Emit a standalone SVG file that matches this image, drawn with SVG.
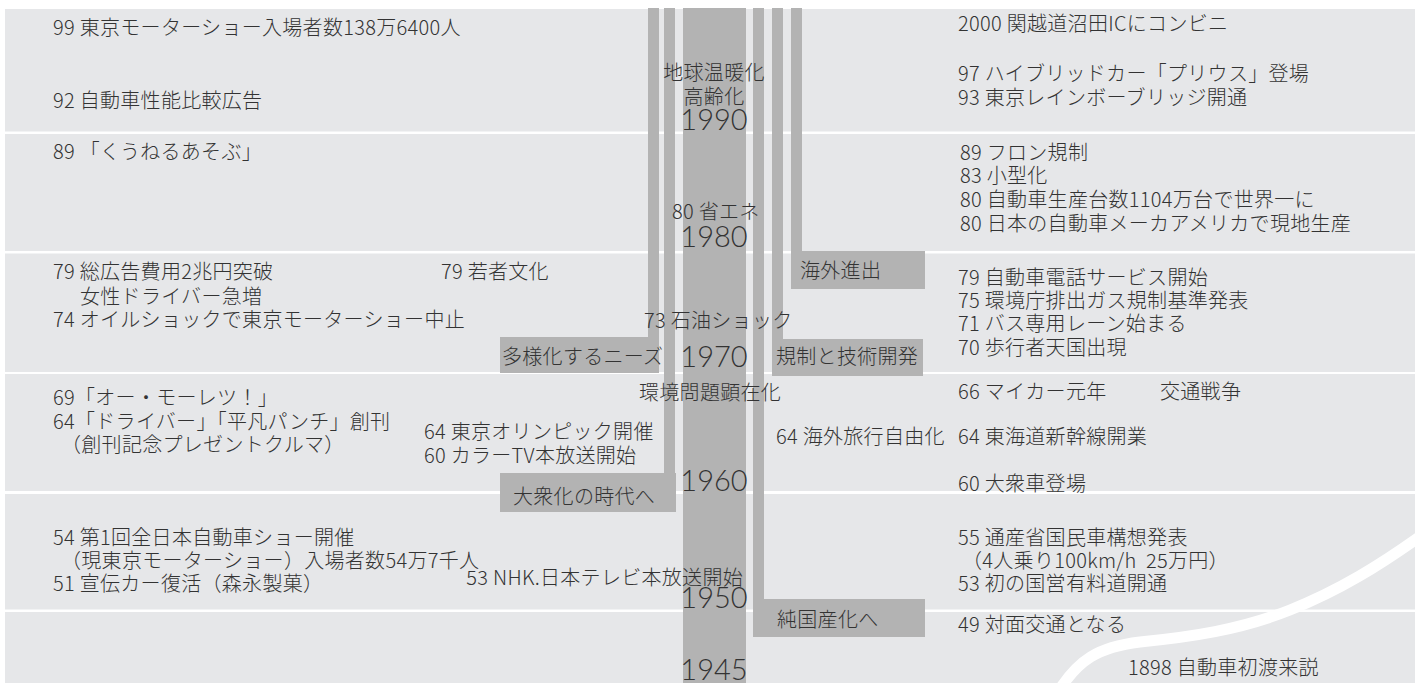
<svg xmlns="http://www.w3.org/2000/svg" width="1415" height="683" viewBox="0 0 1415 683">
<style>
.band{fill:#e6e7e9}
.bar{fill:#b3b3b3}
text{font-family:"Noto Sans CJK JP","Noto Sans",sans-serif;font-weight:300;fill:#333333;font-size:20px;letter-spacing:0.3px}
.yr{font-family:Lato,"Noto Sans CJK JP",sans-serif;font-weight:300;font-size:29px;text-anchor:middle;letter-spacing:0}
.mid{text-anchor:middle}
</style>
<rect width="1415" height="683" fill="#ffffff"/>
<g id="bands">
<rect class="band" x="5" y="9" width="1410" height="122.5"/>
<rect class="band" x="5" y="134" width="1410" height="117"/>
<rect class="band" x="5" y="253.5" width="1410" height="118.5"/>
<rect class="band" x="5" y="374" width="1410" height="117"/>
<rect class="band" x="5" y="494" width="1410" height="115.5"/>
<rect class="band" x="5" y="612" width="1410" height="71"/>
</g>
<path id="road" d="M1058,692 C1078,660 1098,647 1140,642 C1190,637 1240,630 1290,610 C1340,590 1380,565 1422,535" fill="none" stroke="#ffffff" stroke-width="11"/>
<g id="connectors">
<rect class="bar" x="648" y="8" width="11" height="340"/>
<rect class="bar" x="664" y="8" width="11" height="480"/>
<rect class="bar" x="753" y="8" width="11" height="600"/>
<rect class="bar" x="772" y="8" width="11" height="345"/>
<rect class="bar" x="791" y="8" width="11" height="260"/>
</g>
<g id="timeline">
<rect class="bar" x="683" y="8" width="63" height="675"/>
<text x="714" y="80" class="mid">地球温暖化</text>
<text x="714" y="104" class="mid">高齢化</text>
<text x="714" y="130" class="yr">1990</text>
<text x="672" y="219">80 省エネ</text>
<text x="714" y="247" class="yr">1980</text>
<text x="644" y="328">73 石油ショック</text>
<text x="714" y="367" class="yr">1970</text>
<text x="639" y="400">環境問題顕在化</text>
<text x="743" y="585" text-anchor="end">53 NHK.日本テレビ本放送開始</text>
<text x="714" y="491" class="yr">1960</text>
<text x="714" y="608" class="yr">1950</text>
<text x="714" y="680" class="yr">1945</text>
</g>
<g id="node-tayouka">
<rect class="bar" x="500" y="337" width="159" height="36"/>
<text x="502" y="364">多様化するニーズ</text>
</g>
<g id="node-taishuka">
<rect class="bar" x="500" y="473" width="176" height="39"/>
<text x="513" y="504">大衆化の時代へ</text>
</g>
<g id="node-kaigai">
<rect class="bar" x="791" y="251" width="134" height="38"/>
<text x="800" y="278">海外進出</text>
</g>
<g id="node-kisei">
<rect class="bar" x="772" y="339" width="151" height="37"/>
<text x="776" y="364">規制と技術開発</text>
</g>
<g id="node-junkokusan">
<rect class="bar" x="753" y="599" width="172" height="38"/>
<text x="777" y="627">純国産化へ</text>
</g>
<g id="left-events">
<text x="53" y="35">99 東京モーターショー入場者数138万6400人</text>
<text x="53" y="108">92 自動車性能比較広告</text>
<text x="53" y="159">89 「くうねるあそぶ」</text>
<text x="53" y="279">79 総広告費用2兆円突破</text>
<text x="80" y="304">女性ドライバー急増</text>
<text x="53" y="327">74 オイルショックで東京モーターショー中止</text>
<text x="441" y="279">79 若者文化</text>
<text x="53" y="405">69「オー・モーレツ！」</text>
<text x="53" y="429">64「ドライバー」「平凡パンチ」創刊</text>
<text x="61" y="452">（創刊記念プレゼントクルマ）</text>
<text x="424" y="439">64 東京オリンピック開催</text>
<text x="424" y="463">60 カラーTV本放送開始</text>
<text x="53" y="545">54 第1回全日本自動車ショー開催</text>
<text x="61" y="568">（現東京モーターショー）入場者数54万7千人</text>
<text x="53" y="591">51 宣伝カー復活（森永製菓）</text>
</g>
<g id="right-events">
<text x="958" y="31">2000 関越道沼田ICにコンビニ</text>
<text x="958" y="81">97 ハイブリッドカー「プリウス」登場</text>
<text x="958" y="105">93 東京レインボーブリッジ開通</text>
<text x="960" y="160">89 フロン規制</text>
<text x="960" y="183">83 小型化</text>
<text x="960" y="207">80 自動車生産台数1104万台で世界一に</text>
<text x="960" y="231">80 日本の自動車メーカアメリカで現地生産</text>
<text x="958" y="285">79 自動車電話サービス開始</text>
<text x="958" y="308">75 環境庁排出ガス規制基準発表</text>
<text x="958" y="331">71 バス専用レーン始まる</text>
<text x="958" y="355">70 歩行者天国出現</text>
<text x="958" y="399">66 マイカー元年</text>
<text x="1160" y="399">交通戦争</text>
<text x="776" y="444">64 海外旅行自由化</text>
<text x="958" y="444">64 東海道新幹線開業</text>
<text x="958" y="491">60 大衆車登場</text>
<text x="958" y="545">55 通産省国民車構想発表</text>
<text x="962" y="568" xml:space="preserve">（4人乗り100km/h  25万円）</text>
<text x="958" y="591">53 初の国営有料道開通</text>
<text x="958" y="632">49 対面交通となる</text>
<text x="1128" y="675">1898 自動車初渡来説</text>
</g>
</svg>
